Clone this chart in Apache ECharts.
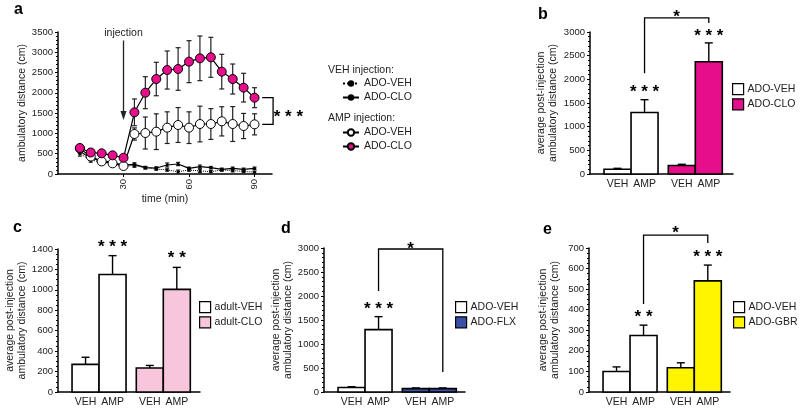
<!DOCTYPE html>
<html>
<head>
<meta charset="utf-8">
<script src="https://cdn.jsdelivr.net/npm/echarts@6/dist/echarts.min.js"></script>
<style>
  html, body { margin: 0; padding: 0; background: #fff; }
  #chart { width: 800px; height: 412px; }
</style>
</head>
<body>
<div id="chart"></div>
<script>
// panel a: time course (min)
const times = [10, 15, 20, 25, 30, 35, 40, 45, 50, 55, 60, 65, 70, 75, 80, 85, 90];
const vehVeh = [500, 340, 300, 250, 200, 205, 156, 123, 99, 57, 99, 76, 57, 99, 83, 66, 42];
const vehVehErr = [60, 50, 40, 40, 30, 40, 30, 30, 30, 40, 30, 40, 30, 30, 30, 30, 30];
const vehClo = [560, 390, 330, 280, 220, 238, 156, 148, 222, 246, 140, 180, 156, 115, 140, 115, 140];
const vehCloErr = [60, 50, 40, 40, 30, 40, 30, 30, 50, 40, 30, 40, 30, 30, 30, 30, 30];
const ampVeh = [630, 430, 310, 263, 197, 986, 1010, 1043, 1142, 1208, 1142, 1232, 1232, 1298, 1232, 1183, 1224];
const ampVehErr = [50, 90, 50, 40, 30, 150, 395, 440, 390, 430, 390, 440, 380, 360, 430, 310, 260];
const ampClo = [640, 530, 510, 460, 400, 1520, 2004, 2341, 2563, 2588, 2769, 2851, 2876, 2523, 2341, 2128, 1881];
const ampCloErr = [40, 40, 40, 40, 40, 330, 394, 412, 469, 525, 517, 550, 493, 427, 370, 354, 246];

// panels b-e: average post-injection distance, [VEH, AMP]
const doses = ['VEH', 'AMP'];
const bVeh = [100, 1300];
const bVehErr = [20, 270];
const bClo = [180, 2370];
const bCloErr = [25, 400];
const cVeh = [270, 1150];
const cVehErr = [70, 185];
const cClo = [235, 1005];
const cCloErr = [25, 215];
const dVeh = [95, 1300];
const dVehErr = [15, 270];
const dFlx = [70, 70];
const dFlxErr = [15, 15];
const eVeh = [100, 275];
const eVehErr = [22, 50];
const eGbr = [118, 540];
const eGbrErr = [24, 77];

const FONT = '"Liberation Sans", Arial, sans-serif';
const MAGENTA = '#e60e8a';
const PINK = '#f8c6dc';
const BLUE = '#3a4fa6';
const YELLOW = '#fff500';
const BAR_PX = 27;

const grids = [
  { left: 58, top: 32, width: 214, height: 142 },   // a
  { left: 590, top: 32, width: 143, height: 142 },  // b
  { left: 58, top: 249, width: 142, height: 143 },  // c
  { left: 324, top: 248, width: 141, height: 144 }, // d
  { left: 589, top: 248, width: 141, height: 144 }  // e
];

// bar centre in bar-width units, small gap between the two groups
const slot = i => 1.02 + i + (i > 1 ? 0.38 : 0);
const slots = [0, 1, 2, 3].map(slot);

const axisLine = { show: true, lineStyle: { color: '#000', width: 1.5 } };
const tickFont = { fontSize: 9.5, color: '#222', fontFamily: FONT };

function yAx(gi, max, step, name, gap, minor) {
  return {
    type: 'value', gridIndex: gi, min: 0, max: max, interval: step,
    name: name, nameLocation: 'middle', nameGap: gap,
    nameTextStyle: { fontSize: 10.5, color: '#222', fontFamily: FONT, lineHeight: 12 },
    axisLine: axisLine,
    axisTick: { show: true, length: 3, lineStyle: { color: '#000' } },
    minorTick: { show: true, splitNumber: minor, length: 2, lineStyle: { color: '#000' } },
    axisLabel: Object.assign({ margin: 5, formatter: v => String(v) }, tickFont),
    splitLine: { show: false }
  };
}

function barXAx(gi) {
  return {
    type: 'value', gridIndex: gi, min: 0, max: grids[gi].width / BAR_PX,
    axisLine: axisLine,
    axisTick: { show: false },
    axisLabel: {
      customValues: slots, fontSize: 10.5, color: '#222', fontFamily: FONT, margin: 5,
      formatter: v => {
        const i = slots.findIndex(s => Math.abs(s - v) < 1e-6);
        return i < 0 ? '' : doses[i % 2];
      }
    },
    splitLine: { show: false }
  };
}

function barSeries(gi, name, color, vals, errs, first) {
  return {
    type: 'custom', name: name, xAxisIndex: gi, yAxisIndex: gi, clip: false,
    itemStyle: { color: color, borderColor: '#000', borderWidth: 1.5 },
    data: vals.map((v, i) => [slot(first + i), v, errs[i]]),
    renderItem(p, api) {
      const x = api.value(0), v = api.value(1), e = api.value(2);
      const top = api.coord([x, v]);
      const base = api.coord([x, 0]);
      const et = api.coord([x, v + e]);
      const w = api.size([1, 0])[0];
      return {
        type: 'group', children: [
          { type: 'line', shape: { x1: top[0], y1: top[1], x2: top[0], y2: et[1] }, style: { stroke: '#000', lineWidth: 1.4 } },
          { type: 'line', shape: { x1: top[0] - 4, y1: et[1], x2: top[0] + 4, y2: et[1] }, style: { stroke: '#000', lineWidth: 1.4 } },
          { type: 'rect', shape: { x: top[0] - w / 2, y: top[1], width: w, height: base[1] - top[1] }, style: { fill: color, stroke: '#000', lineWidth: 1.6 } }
        ]
      };
    }
  };
}

function errSeries(vals, errs, half) {
  return {
    type: 'custom', xAxisIndex: 0, yAxisIndex: 0, silent: true, clip: false, z: 1,
    data: times.map((t, i) => [t, vals[i], errs[i]]),
    renderItem(p, api) {
      const x = api.value(0), v = api.value(1), e = api.value(2);
      const lo = api.coord([x, Math.max(v - e, 0)]);
      const hi = api.coord([x, v + e]);
      const s = { stroke: '#222', lineWidth: 1.2 };
      return {
        type: 'group', children: [
          { type: 'line', shape: { x1: lo[0], y1: lo[1], x2: hi[0], y2: hi[1] }, style: s },
          { type: 'line', shape: { x1: hi[0] - half, y1: hi[1], x2: hi[0] + half, y2: hi[1] }, style: s },
          { type: 'line', shape: { x1: lo[0] - half, y1: lo[1], x2: lo[0] + half, y2: lo[1] }, style: s }
        ]
      };
    }
  };
}

function lineSeries(name, vals, opts) {
  return Object.assign({
    type: 'line', name: name, xAxisIndex: 0, yAxisIndex: 0, z: 2,
    data: times.map((t, i) => [t, vals[i]]),
    symbol: 'circle', showSymbol: true
  }, opts);
}

// annotation helpers (stars, brackets) in data coordinates
function stars(api, x, v, txt) {
  const pt = api.coord([x, v]);
  return {
    type: 'text', x: pt[0], y: pt[1] + 4,
    style: { text: txt, fill: '#000', fontSize: 17, fontWeight: 'bold', fontFamily: FONT, align: 'center', verticalAlign: 'middle' }
  };
}
function path(api, pts) {
  return {
    type: 'polyline',
    shape: { points: pts.map(q => api.coord(q)) },
    style: { stroke: '#000', lineWidth: 1.3, fill: 'none' }
  };
}
function bracket(api, x1, v1, x2, v2, vTop) {
  return path(api, [[x1, v1], [x1, vTop], [x2, vTop], [x2, v2]]);
}
function annot(gi, build) {
  return {
    type: 'custom', xAxisIndex: gi, yAxisIndex: gi, silent: true, clip: false, z: 10,
    data: [[0, 0]],
    renderItem: (p, api) => ({ type: 'group', children: build(api) })
  };
}

function barLegend(names, left, top) {
  return {
    data: names, left: left, top: top, orient: 'vertical', icon: 'rect',
    itemWidth: 11, itemHeight: 11, itemGap: 3, padding: 0,
    itemStyle: { borderColor: '#000', borderWidth: 1.2 },
    formatter: n => n.split(':')[1],
    textStyle: { fontSize: 10.5, color: '#222', fontFamily: FONT, padding: [0, 0, 0, -1] }
  };
}

function label(txt, x, y) {
  return { type: 'text', x: x, y: y, style: { text: txt, fontSize: 16, fontWeight: 'bold', fontFamily: FONT, fill: '#000', verticalAlign: 'middle' } };
}
function note(txt, x, y) {
  return { type: 'text', x: x, y: y, style: { text: txt, fontSize: 10.5, fontFamily: FONT, fill: '#222', verticalAlign: 'middle' } };
}

const yName = 'average post-injection\nambulatory distance (cm)';

const chart = echarts.init(document.getElementById('chart'), null, { renderer: 'canvas' });
chart.setOption({
  animation: false,
  backgroundColor: '#fff',
  grid: grids,
  xAxis: [
    {
      type: 'value', gridIndex: 0, min: 0, max: 98,
      name: 'time (min)', nameLocation: 'middle', nameGap: 16,
      nameTextStyle: { fontSize: 10.5, color: '#222', fontFamily: FONT },
      axisLine: axisLine,
      axisTick: { show: true, customValues: [30, 60, 90], length: 3, lineStyle: { color: '#000' } },
      axisLabel: Object.assign({ customValues: [30, 60, 90], rotate: 90, margin: 5 }, tickFont),
      splitLine: { show: false }
    },
    barXAx(1), barXAx(2), barXAx(3), barXAx(4)
  ],
  yAxis: [
    yAx(0, 3500, 500, 'ambulatory distance (cm)', 30, 5),
    yAx(1, 3000, 500, yName, 31, 5),
    yAx(2, 1400, 200, yName, 28, 4),
    yAx(3, 3000, 500, yName, 30, 5),
    yAx(4, 700, 100, yName, 28, 4)
  ],
  legend: [
    {
      data: ['VEH:ADO-VEH', 'VEH:ADO-CLO'], left: 342, top: 78, orient: 'vertical',
      itemWidth: 16, itemHeight: 8, itemGap: 3, padding: 0,
      formatter: n => n.split(':')[1],
      textStyle: { fontSize: 10.5, color: '#222', fontFamily: FONT }
    },
    {
      data: ['AMP:ADO-VEH', 'AMP:ADO-CLO'], left: 342, top: 127, orient: 'vertical',
      itemWidth: 16, itemHeight: 8, itemGap: 3, padding: 0,
      formatter: n => n.split(':')[1],
      textStyle: { fontSize: 10.5, color: '#222', fontFamily: FONT }
    },
    barLegend(['b:ADO-VEH', 'b:ADO-CLO'], 732, 83),
    barLegend(['c:adult-VEH', 'c:adult-CLO'], 199, 301),
    barLegend(['d:ADO-VEH', 'd:ADO-FLX'], 455, 301),
    barLegend(['e:ADO-VEH', 'e:ADO-GBR'], 733, 301)
  ],
  graphic: [
    label('a', 14, 10),
    label('b', 538, 15),
    label('c', 13, 228),
    label('d', 281, 229),
    label('e', 543, 230),
    note('VEH injection:', 328, 70),
    note('AMP injection:', 328, 118)
  ],
  series: [
    errSeries(vehVeh, vehVehErr, 2),
    errSeries(vehClo, vehCloErr, 2),
    errSeries(ampVeh, ampVehErr, 2.5),
    errSeries(ampClo, ampCloErr, 2.5),
    lineSeries('VEH:ADO-VEH', vehVeh, {
      symbolSize: 3, itemStyle: { color: '#000' }, lineStyle: { color: '#000', width: 1, type: 'dotted' }
    }),
    lineSeries('VEH:ADO-CLO', vehClo, {
      symbolSize: 3, itemStyle: { color: '#000' }, lineStyle: { color: '#000', width: 1.2 }
    }),
    lineSeries('AMP:ADO-VEH', ampVeh, {
      symbolSize: 9, z: 3, itemStyle: { color: '#fff', borderColor: '#000', borderWidth: 1 }, lineStyle: { color: '#000', width: 1.2 }
    }),
    lineSeries('AMP:ADO-CLO', ampClo, {
      symbolSize: 9, z: 3, itemStyle: { color: MAGENTA, borderColor: '#000', borderWidth: 1 }, lineStyle: { color: '#000', width: 1.2 }
    }),
    annot(0, api => {
      const tip = api.coord([30, 1330]);
      const start = api.coord([30, 3290]);
      const txt = api.coord([30, 3475]);
      return [
        { type: 'line', shape: { x1: start[0], y1: start[1], x2: tip[0], y2: tip[1] - 6 }, style: { stroke: '#222', lineWidth: 1.3 } },
        { type: 'polygon', shape: { points: [[tip[0], tip[1]], [tip[0] - 3, tip[1] - 9], [tip[0] + 3, tip[1] - 9]] }, style: { fill: '#222' } },
        { type: 'text', x: txt[0], y: txt[1], style: { text: 'injection', fontSize: 10.5, fontFamily: FONT, fill: '#222', align: 'center', verticalAlign: 'middle' } },
        path(api, [[93.5, ampClo[16]], [98.5, ampClo[16]], [98.5, ampVeh[16]], [93.5, ampVeh[16]]]),
        stars(api, 105.5, 1503, '* * *')
      ];
    }),

    barSeries(1, 'b:ADO-VEH', '#fff', bVeh, bVehErr, 0),
    barSeries(1, 'b:ADO-CLO', MAGENTA, bClo, bCloErr, 2),
    annot(1, api => [
      stars(api, slots[1], 1817, '* * *'),
      stars(api, slots[3], 3000, '* * *'),
      bracket(api, slots[1], 2130, slots[3], 3190, 3300),
      stars(api, (slots[1] + slots[3]) / 2, 3400, '*')
    ]),

    barSeries(2, 'c:adult-VEH', '#fff', cVeh, cVehErr, 0),
    barSeries(2, 'c:adult-CLO', PINK, cClo, cCloErr, 2),
    annot(2, api => [
      stars(api, slots[1], 1459, '* * *'),
      stars(api, slots[3], 1351, '* *')
    ]),

    barSeries(3, 'd:ADO-VEH', '#fff', dVeh, dVehErr, 0),
    barSeries(3, 'd:ADO-FLX', BLUE, dFlx, dFlxErr, 2),
    annot(3, api => [
      stars(api, slots[1], 1812, '* * *'),
      bracket(api, slots[1], 2104, slots[3], 417, 2979),
      stars(api, (slots[1] + slots[3]) / 2, 3062, '*')
    ]),

    barSeries(4, 'e:ADO-VEH', '#fff', eVeh, eVehErr, 0),
    barSeries(4, 'e:ADO-GBR', YELLOW, eGbr, eGbrErr, 2),
    annot(4, api => [
      stars(api, slots[1], 384, '* *'),
      stars(api, slots[3], 676, '* * *'),
      bracket(api, slots[1], 428, slots[3], 724, 763),
      stars(api, (slots[1] + slots[3]) / 2, 792, '*')
    ])
  ]
});
</script>
</body>
</html>
